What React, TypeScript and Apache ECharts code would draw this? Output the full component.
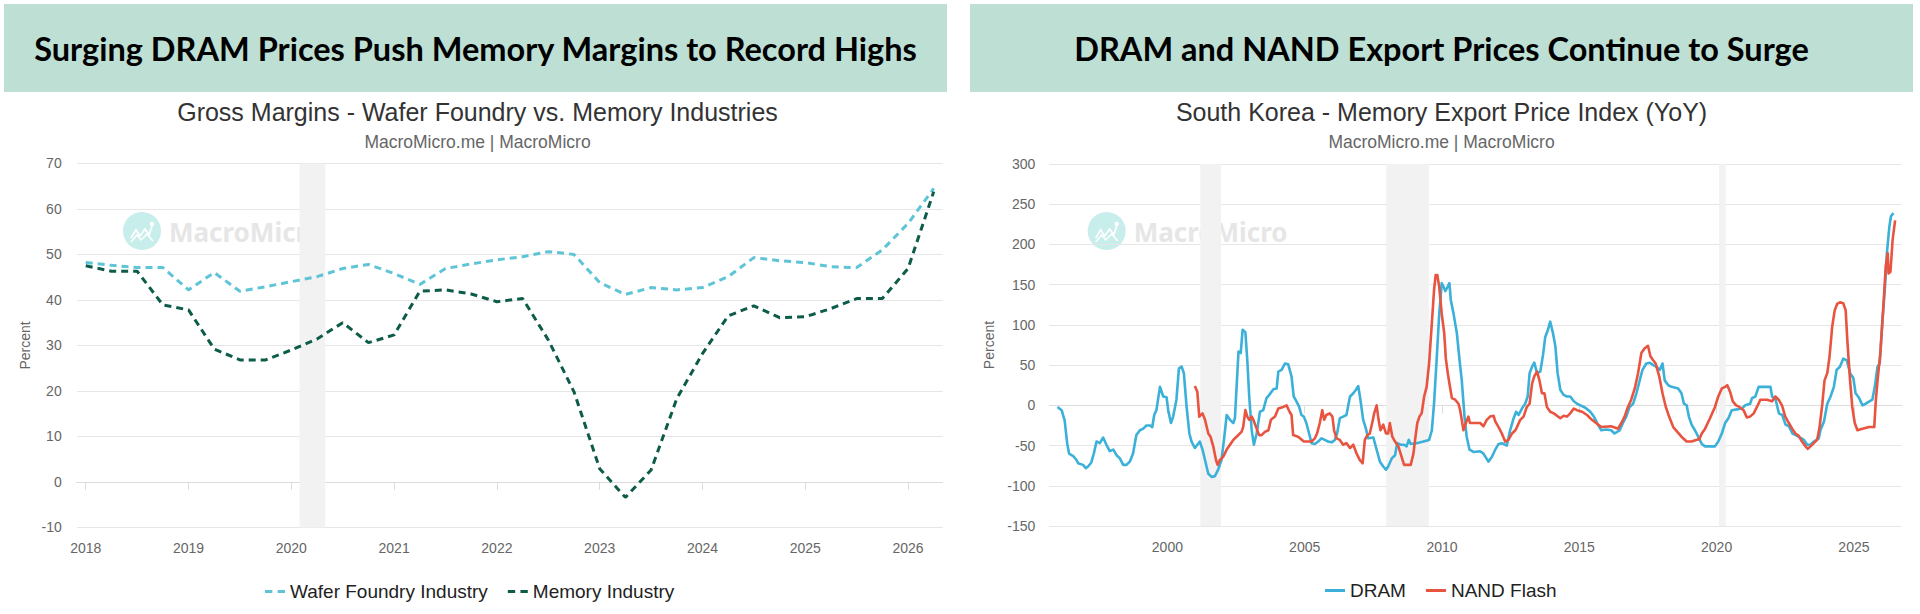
import React, { useEffect, useRef } from "react";
import * as echarts from "echarts";

// ---------- Left chart: Gross margins (quarterly, %) ----------
const gmQuarters = [
  "2018Q1", "2018Q2", "2018Q3", "2018Q4",
  "2019Q1", "2019Q2", "2019Q3", "2019Q4",
  "2020Q1", "2020Q2", "2020Q3", "2020Q4",
  "2021Q1", "2021Q2", "2021Q3", "2021Q4",
  "2022Q1", "2022Q2", "2022Q3", "2022Q4",
  "2023Q1", "2023Q2", "2023Q3", "2023Q4",
  "2024Q1", "2024Q2", "2024Q3", "2024Q4",
  "2025Q1", "2025Q2", "2025Q3", "2025Q4",
  "2026Q1", "2026Q2",
];
const waferFoundry = [
  48.2, 47.6, 47.1, 47.1,
  42.2, 46.0, 41.9, 42.9,
  44.0, 45.1, 46.9, 47.8,
  45.8, 43.4, 46.9, 47.9,
  48.8, 49.5, 50.6, 50.0,
  43.8, 41.2, 42.7, 42.2,
  42.7, 45.1, 49.3, 48.6,
  48.2, 47.3, 47.1, 51.0,
  56.8, 64.5,
];
const memoryIndustry = [
  47.5, 46.3, 46.3, 38.9,
  37.8, 29.2, 26.8, 26.8,
  29.0, 31.4, 35.0, 30.6,
  32.3, 41.9, 42.2, 41.3,
  39.6, 40.3, 31.2, 19.8,
  2.9, -3.4, 2.6, 18.3,
  28.2, 36.5, 38.7, 36.1,
  36.3, 38.1, 40.3, 40.3,
  46.9, 63.8,
];
const gmYearTicks = [2018, 2019, 2020, 2021, 2022, 2023, 2024, 2025, 2026];
const gmRecessions: [number, number][] = [[2020.08, 2020.33]];

// ---------- Right chart: South Korea memory export price index YoY (%) ----------
// [decimal year, value]
const dramPoints: [number, number][] = [
  [1996.0, -2], [1996.15, -6], [1996.26, -19], [1996.35, -47], [1996.42, -60], [1996.57, -63], [1996.69, -68], [1996.75, -72], [1996.93, -74],
  [1997.03, -78], [1997.11, -76], [1997.23, -71], [1997.32, -60], [1997.42, -45], [1997.54, -47], [1997.66, -40], [1997.78, -49], [1997.9, -57],
  [1998.03, -55], [1998.15, -62], [1998.27, -66], [1998.39, -74], [1998.51, -74], [1998.63, -70], [1998.75, -60], [1998.87, -37],
  [1999.0, -31], [1999.12, -29], [1999.24, -25], [1999.36, -25], [1999.45, -27], [1999.52, -12], [1999.6, -6], [1999.73, 23], [1999.85, 11], [1999.97, 10],
  [2000.03, -6], [2000.13, -22], [2000.21, -14], [2000.33, 7], [2000.42, 46], [2000.52, 48], [2000.6, 40], [2000.7, -2], [2000.8, -35], [2000.88, -45],
  [2001.0, -53], [2001.09, -49], [2001.18, -45], [2001.28, -55], [2001.37, -68], [2001.49, -85], [2001.61, -89], [2001.73, -88], [2001.85, -80], [2001.97, -68],
  [2002.06, -43], [2002.16, -12], [2002.28, -18], [2002.4, -22], [2002.46, -16], [2002.52, 23], [2002.59, 67], [2002.67, 65], [2002.74, 94], [2002.84, 91], [2002.91, 56], [2002.98, 11],
  [2003.07, -31], [2003.15, -49], [2003.25, -35], [2003.37, -8], [2003.49, -6], [2003.61, 9], [2003.71, 13], [2003.86, 20], [2003.98, 21],
  [2004.04, 42], [2004.16, 44], [2004.28, 52], [2004.4, 51], [2004.52, 36], [2004.6, 11], [2004.7, 5], [2004.8, -2], [2004.88, -12], [2004.97, -14],
  [2005.06, -22], [2005.16, -35], [2005.25, -47], [2005.37, -48], [2005.49, -45], [2005.61, -41], [2005.73, -43], [2005.85, -45], [2005.98, -46],
  [2006.1, -43], [2006.18, -35], [2006.28, -16], [2006.4, -14], [2006.52, -12], [2006.65, 11], [2006.77, 15], [2006.86, 19], [2006.95, 24],
  [2007.03, 7], [2007.13, -18], [2007.23, -29], [2007.31, -41], [2007.5, -40], [2007.62, -55], [2007.74, -70], [2007.86, -76], [2007.96, -80],
  [2008.04, -76], [2008.17, -66], [2008.29, -62], [2008.37, -47], [2008.49, -49], [2008.62, -49], [2008.71, -51], [2008.79, -43], [2008.86, -48],
  [2009.08, -47], [2009.32, -45], [2009.53, -43], [2009.63, -31], [2009.71, 2], [2009.81, 60], [2009.9, 114], [2009.99, 152],
  [2010.05, 148], [2010.12, 142], [2010.2, 147], [2010.27, 152], [2010.32, 131], [2010.42, 114], [2010.54, 90], [2010.64, 56], [2010.72, 31], [2010.82, -14], [2010.9, -39],
  [2011.0, -55], [2011.15, -58], [2011.39, -57], [2011.51, -60], [2011.69, -70], [2011.82, -64], [2011.94, -55],
  [2012.06, -48], [2012.18, -47], [2012.36, -50], [2012.48, -31], [2012.61, -16], [2012.7, -8], [2012.79, -12], [2012.91, -4],
  [2013.03, 2], [2013.12, 11], [2013.19, 40], [2013.28, 48], [2013.36, 53], [2013.46, 40], [2013.58, 42], [2013.68, 63], [2013.76, 85], [2013.86, 94], [2013.94, 104],
  [2014.04, 90], [2014.13, 73], [2014.21, 40], [2014.31, 19], [2014.43, 13], [2014.55, 11], [2014.67, 11], [2014.8, 5], [2014.92, 2],
  [2015.04, 0], [2015.22, -3], [2015.4, -8], [2015.53, -14], [2015.65, -22], [2015.8, -31], [2015.98, -30],
  [2016.16, -31], [2016.28, -35], [2016.47, -31], [2016.59, -22], [2016.71, -14], [2016.83, -2], [2016.96, 2],
  [2017.08, 15], [2017.2, 31], [2017.3, 44], [2017.44, 52], [2017.57, 53], [2017.69, 50], [2017.81, 48], [2017.93, 44],
  [2018.03, 52], [2018.11, 31], [2018.24, 25], [2018.36, 23], [2018.6, 21], [2018.72, 15], [2018.81, 2], [2018.91, 0], [2018.99, -14],
  [2019.09, -24], [2019.21, -31], [2019.33, -39], [2019.46, -48], [2019.58, -51], [2019.76, -51], [2019.94, -51],
  [2020.06, -45], [2020.19, -35], [2020.31, -22], [2020.43, -16], [2020.55, -6], [2020.74, -5], [2020.92, -4],
  [2021.04, 0], [2021.22, 2], [2021.29, 9], [2021.41, 11], [2021.53, 23], [2021.96, 23],
  [2022.02, 11], [2022.15, 7], [2022.27, -10], [2022.39, -12], [2022.51, -24], [2022.63, -26], [2022.76, -35], [2022.88, -37],
  [2023.18, -43], [2023.3, -49], [2023.42, -49], [2023.54, -45], [2023.72, -41], [2023.78, -31], [2023.91, -20],
  [2024.03, 2], [2024.15, 11], [2024.27, 23], [2024.37, 44], [2024.49, 48], [2024.61, 58], [2024.74, 56], [2024.86, 40], [2024.98, 34],
  [2025.06, 15], [2025.19, 9], [2025.31, 0], [2025.43, 2], [2025.67, 7], [2025.76, 23], [2025.86, 48], [2025.94, 52],
  [2026.04, 106], [2026.13, 147], [2026.2, 189], [2026.29, 222], [2026.35, 235], [2026.44, 239],
];
const nandPoints: [number, number][] = [
  [2001.0, 24], [2001.09, 17], [2001.16, -14], [2001.28, -10], [2001.37, -18], [2001.49, -35], [2001.57, -39], [2001.67, -51], [2001.77, -68], [2001.83, -74], [2001.91, -68],
  [2002.03, -64], [2002.16, -55], [2002.28, -49], [2002.4, -43], [2002.52, -39], [2002.7, -33], [2002.76, -27], [2002.84, -6], [2002.91, -14], [2002.98, -18],
  [2003.07, -14], [2003.13, -18], [2003.25, -29], [2003.34, -37], [2003.43, -37], [2003.55, -33], [2003.68, -31], [2003.77, -18], [2003.92, -14],
  [2004.04, -4], [2004.22, -2], [2004.34, 0], [2004.45, -8], [2004.52, -12], [2004.58, -37], [2004.76, -39], [2004.97, -45],
  [2005.25, -45], [2005.37, -41], [2005.45, -35], [2005.55, -22], [2005.64, -6], [2005.71, -18], [2005.79, -12], [2005.91, -10],
  [2006.01, -14], [2006.07, -31], [2006.16, -41], [2006.28, -43], [2006.4, -49], [2006.52, -47], [2006.65, -53], [2006.77, -49], [2006.89, -60],
  [2007.01, -68], [2007.11, -72], [2007.19, -43], [2007.28, -37], [2007.37, -35], [2007.47, -20], [2007.53, -10], [2007.62, 0], [2007.69, -18], [2007.76, -31], [2007.86, -24], [2007.96, -35],
  [2008.04, -35], [2008.1, -22], [2008.19, -39], [2008.29, -45], [2008.41, -51], [2008.53, -64], [2008.62, -74], [2008.86, -74], [2008.96, -60],
  [2009.02, -43], [2009.1, -22], [2009.18, -14], [2009.26, -10], [2009.35, 11], [2009.44, 23], [2009.53, 52], [2009.63, 102], [2009.71, 143], [2009.77, 162], [2009.83, 162], [2009.9, 147], [2009.99, 114],
  [2010.08, 90], [2010.14, 58], [2010.21, 40], [2010.29, 23], [2010.36, 9], [2010.48, 7], [2010.6, 2], [2010.66, -6], [2010.72, -18], [2010.78, -31], [2010.87, -22], [2010.96, -14],
  [2011.02, -22], [2011.27, -22], [2011.39, -22], [2011.51, -26], [2011.63, -18], [2011.75, -14], [2011.88, -13], [2011.94, -20],
  [2012.06, -27], [2012.18, -35], [2012.3, -45], [2012.42, -43], [2012.55, -35], [2012.67, -31], [2012.73, -27], [2012.85, -18], [2012.97, -14],
  [2013.09, -2], [2013.19, 2], [2013.28, 27], [2013.36, 36], [2013.46, 42], [2013.55, 31], [2013.64, 15], [2013.73, 15], [2013.82, -2], [2013.94, -8],
  [2014.07, -10], [2014.31, -16], [2014.43, -13], [2014.55, -14], [2014.67, -10], [2014.8, -4], [2014.92, -6],
  [2015.1, -8], [2015.28, -12], [2015.46, -18], [2015.61, -22], [2015.8, -27],
  [2016.16, -26], [2016.41, -29], [2016.53, -22], [2016.65, -14], [2016.77, -2], [2016.89, 7],
  [2017.02, 21], [2017.14, 40], [2017.26, 65], [2017.38, 71], [2017.5, 74], [2017.59, 61], [2017.69, 56], [2017.78, 52], [2017.91, 36],
  [2018.03, 15], [2018.15, -2], [2018.27, -14], [2018.42, -27], [2018.57, -33], [2018.72, -39], [2018.91, -45],
  [2019.09, -45], [2019.25, -43], [2019.37, -42], [2019.46, -35], [2019.58, -29], [2019.76, -16], [2019.94, -2],
  [2020.06, 11], [2020.19, 21], [2020.31, 23], [2020.39, 25], [2020.49, 17], [2020.59, 5], [2020.71, 0], [2020.83, -2], [2020.98, -6],
  [2021.1, -15], [2021.22, -14], [2021.35, -10], [2021.47, -2], [2021.59, 7], [2021.83, 7],
  [2022.02, 5], [2022.14, 11], [2022.26, 7], [2022.38, 0], [2022.5, -14], [2022.63, -22], [2022.75, -29], [2022.87, -35], [2022.99, -38],
  [2023.11, -45], [2023.24, -51], [2023.32, -54], [2023.42, -51], [2023.54, -47], [2023.66, -43], [2023.75, -27], [2023.85, 2], [2023.93, 31],
  [2024.03, 40], [2024.11, 60], [2024.21, 98], [2024.3, 118], [2024.39, 126], [2024.49, 128], [2024.61, 127], [2024.7, 118], [2024.76, 81], [2024.86, 31], [2024.94, -2],
  [2025.03, -22], [2025.13, -31], [2025.31, -29], [2025.55, -27], [2025.74, -27], [2025.8, 7], [2025.86, 31], [2025.96, 64],
  [2026.08, 127], [2026.16, 173], [2026.23, 189], [2026.26, 164], [2026.33, 166], [2026.41, 206], [2026.5, 230],
];
const krYearTicks = [2000, 2005, 2010, 2015, 2020, 2025];
const krRecessions: [number, number][] = [
  [2001.2, 2001.95],
  [2007.97, 2009.52],
  [2020.09, 2020.33],
];

// ---------- Texts ----------
const leftHeader = "Surging DRAM Prices Push Memory Margins to Record Highs";
const rightHeader = "DRAM and NAND Export Prices Continue to Surge";
const leftTitle = "Gross Margins - Wafer Foundry vs. Memory Industries";
const rightTitle = "South Korea - Memory Export Price Index (YoY)";
const sourceText = "MacroMicro.me | MacroMicro";

const quarterToYear = (q: string) => {
  const y = parseInt(q.slice(0, 4), 10);
  const n = parseInt(q.slice(5), 10);
  return y + (n - 1) / 4;
};

const FONT = "'Liberation Sans', Arial, Helvetica, sans-serif";
const DASH_ICON = "path://M0,0H7V3H0Z M12,0H19V3H12Z";
const SOLID_ICON = "path://M0,0H20V3H0Z";

function watermark(cx: number, cy: number) {
  return [
    { type: "circle", z: 0, shape: { cx, cy, r: 19 }, style: { fill: "#c8eeec" }, silent: true },
    {
      type: "polyline", z: 1, silent: true,
      shape: { points: [[cx - 11, cy + 7], [cx - 6, cy - 1], [cx - 2, cy + 5], [cx + 3, cy - 2], [cx + 7, cy + 4], [cx + 10, cy - 5]] },
      style: { stroke: "#ffffff", lineWidth: 1.8, fill: null },
    },
    {
      type: "polyline", z: 1, silent: true,
      shape: { points: [[cx - 11, cy + 11], [cx - 5, cy + 4], [cx - 1, cy + 9], [cx + 5, cy + 3], [cx + 11, cy + 10]] },
      style: { stroke: "#ffffff", lineWidth: 1.5, fill: null },
    },
    { type: "circle", z: 1, silent: true, shape: { cx: cx + 10, cy: cy - 7, r: 2.2 }, style: { fill: "#ffffff" } },
    {
      type: "text", z: 0, silent: true, x: cx + 27, y: cy + 1,
      style: {
        text: "MacroMicro", fill: "#e6e6e6", font: "bold 26px 'Noto Sans', sans-serif",
        textAlign: "left", align: "left", textVerticalAlign: "middle", verticalAlign: "middle",
      },
    },
  ];
}

function centeredText(text: string, x: number, y: number, font: string, fill: string) {
  return {
    type: "text", x, y, silent: true,
    style: { text, font, fill, textAlign: "center", align: "center", textVerticalAlign: "middle", verticalAlign: "middle" },
  };
}

export default function App() {
  const ref = useRef<HTMLDivElement>(null);

  useEffect(() => {
    if (!ref.current) return;
    const chart = echarts.init(ref.current, undefined, { renderer: "svg" });

    const gridLineColor = "#e6e6e6";
    const axisLineColor = "#dcdcdc";

    const xAxisCommon = (min: number, max: number, ticks: number[], gridIndex: number) => ({
      type: "value",
      gridIndex,
      min,
      max,
      axisLine: { show: true, lineStyle: { color: axisLineColor, width: 1 } },
      axisTick: { show: true, customValues: ticks, length: 8, lineStyle: { color: axisLineColor } },
      axisLabel: {
        customValues: ticks,
        formatter: (v: number) => String(Math.round(v)),
        color: "#666666",
        fontSize: 14,
        fontFamily: FONT,
        margin: 14,
      },
      splitLine: { show: false },
    });

    const yAxisCommon = (min: number, max: number, interval: number, gridIndex: number, nameGap: number, margin: number) => ({
      type: "value",
      gridIndex,
      min,
      max,
      interval,
      name: "Percent",
      nameLocation: "middle",
      nameRotate: 90,
      nameGap,
      nameTextStyle: { color: "#666666", fontSize: 14, fontFamily: FONT },
      axisLine: { show: false },
      axisTick: { show: false },
      axisLabel: { color: "#666666", fontSize: 14, fontFamily: FONT, margin },
      splitLine: { show: true, lineStyle: { color: gridLineColor, width: 1 } },
    });

    const legendCommon = {
      padding: 0,
      itemWidth: 20,
      itemHeight: 14,
      itemGap: 20,
      textStyle: { color: "#222222", fontSize: 19, fontFamily: FONT },
      selectedMode: false,
    };

    const option: any = {
      animation: false,
      backgroundColor: "#ffffff",
      textStyle: { fontFamily: FONT },
      grid: [
        { left: 76.7, top: 163.4, width: 866, height: 364 },
        { left: 1049.3, top: 164, width: 852.4, height: 362 },
      ],
      xAxis: [
        xAxisCommon(2017.912, 2026.337, gmYearTicks, 0),
        xAxisCommon(1995.7, 2026.74, krYearTicks, 1),
      ],
      yAxis: [
        yAxisCommon(-10, 70, 10, 0, 45, 15),
        yAxisCommon(-150, 300, 50, 1, 53, 14),
      ],
      legend: [
        {
          ...legendCommon,
          data: [
            { name: "Wafer Foundry Industry", icon: DASH_ICON },
            { name: "Memory Industry", icon: DASH_ICON },
          ],
          left: 265,
          top: 582,
        },
        {
          ...legendCommon,
          data: [
            { name: "DRAM", icon: SOLID_ICON },
            { name: "NAND Flash", icon: SOLID_ICON },
          ],
          left: 1325,
          top: 581,
        },
      ],
      graphic: [
        { type: "rect", z: 0, silent: true, shape: { x: 4, y: 4, width: 943, height: 88 }, style: { fill: "#bddfd4" } },
        { type: "rect", z: 0, silent: true, shape: { x: 970, y: 4, width: 943, height: 88 }, style: { fill: "#bddfd4" } },
        centeredText(leftHeader, 475.5, 48, "bold 32.5px Lato, sans-serif", "#000000"),
        centeredText(rightHeader, 1441.5, 48, "bold 32.5px Lato, sans-serif", "#000000"),
        centeredText(leftTitle, 477.5, 112, `25px ${FONT}`, "#333333"),
        centeredText(rightTitle, 1441.5, 112, `25px ${FONT}`, "#333333"),
        centeredText(sourceText, 477.5, 142, `17.5px ${FONT}`, "#666666"),
        centeredText(sourceText, 1441.5, 142, `17.5px ${FONT}`, "#666666"),
        ...watermark(142, 231),
        ...watermark(1106.7, 231),
      ],
      series: [
        {
          name: "gm-recession",
          type: "line",
          xAxisIndex: 0,
          yAxisIndex: 0,
          data: [],
          z: 1,
          silent: true,
          markArea: {
            silent: true,
            itemStyle: { color: "#f2f2f2" },
            data: gmRecessions.map(([a, b]) => [{ xAxis: a }, { xAxis: b }]),
          },
        },
        {
          name: "Wafer Foundry Industry",
          type: "line",
          xAxisIndex: 0,
          yAxisIndex: 0,
          z: 3,
          symbol: "none",
          color: "#5ec4d6",
          lineStyle: { color: "#5ec4d6", width: 3, type: [7, 5] },
          data: gmQuarters.map((q, i) => [quarterToYear(q), waferFoundry[i]]),
        },
        {
          name: "Memory Industry",
          type: "line",
          xAxisIndex: 0,
          yAxisIndex: 0,
          z: 3,
          symbol: "none",
          color: "#0d5c4a",
          lineStyle: { color: "#0d5c4a", width: 3, type: [7, 5] },
          data: gmQuarters.map((q, i) => [quarterToYear(q), memoryIndustry[i]]),
        },
        {
          name: "kr-recession",
          type: "line",
          xAxisIndex: 1,
          yAxisIndex: 1,
          data: [],
          z: 1,
          silent: true,
          markArea: {
            silent: true,
            itemStyle: { color: "#f2f2f2" },
            data: krRecessions.map(([a, b]) => [{ xAxis: a }, { xAxis: b }]),
          },
        },
        {
          name: "DRAM",
          type: "line",
          xAxisIndex: 1,
          yAxisIndex: 1,
          z: 3,
          symbol: "none",
          color: "#3bb0d8",
          lineStyle: { color: "#3bb0d8", width: 2.6, join: "round" },
          data: dramPoints,
        },
        {
          name: "NAND Flash",
          type: "line",
          xAxisIndex: 1,
          yAxisIndex: 1,
          z: 4,
          symbol: "none",
          color: "#e8543f",
          lineStyle: { color: "#e8543f", width: 2.6, join: "round" },
          data: nandPoints,
        },
      ],
    };

    chart.setOption(option);
    return () => chart.dispose();
  }, []);

  return (
    <div
      ref={ref}
      style={{ position: "absolute", left: 0, top: 0, width: 1920, height: 614, background: "#ffffff" }}
    />
  );
}
